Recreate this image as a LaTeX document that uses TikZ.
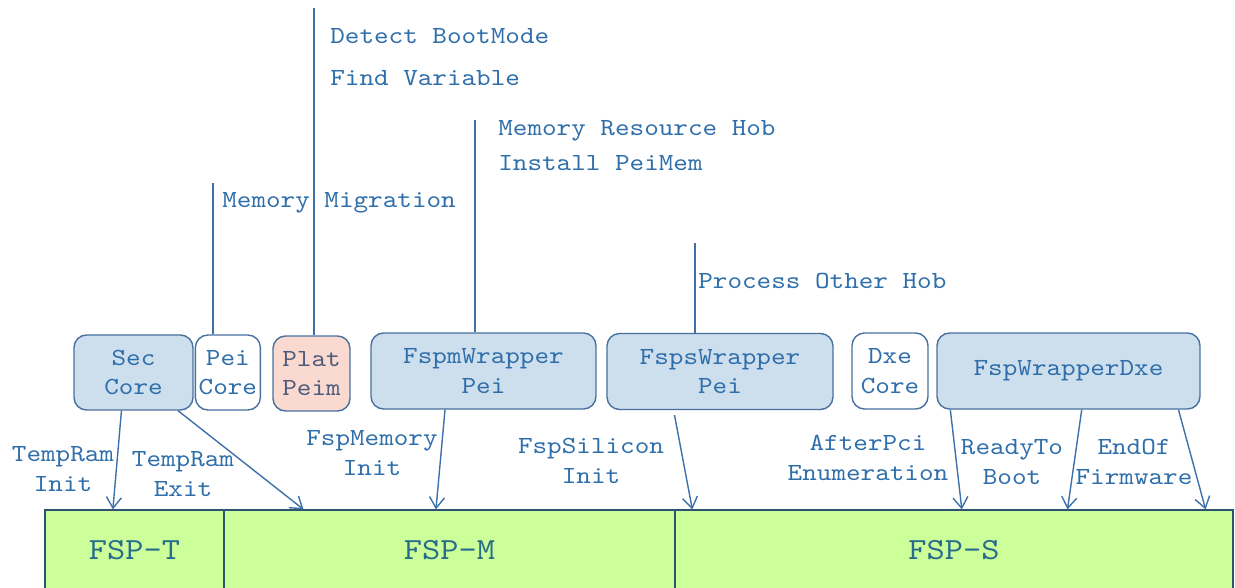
\documentclass[tikz,border=0pt]{standalone}
\usepackage{fontspec}
\newfontfamily\courierlike[FakeStretch=1.13]{lmmono10-regular.otf}
\usetikzlibrary{arrows.meta, positioning, calc}
\definecolor{textblue}{RGB}{46, 110, 170}
\definecolor{lineblue}{RGB}{62, 112, 170}
\definecolor{boxdraw}{RGB}{72, 112, 160}
\definecolor{boxfill}{RGB}{205, 222, 237}
\definecolor{pinkfill}{RGB}{250, 217, 209}
\definecolor{platgray}{RGB}{78, 92, 122}
\definecolor{fspgreen}{RGB}{204, 255, 153}
\definecolor{bardraw}{RGB}{44, 84, 112}
\definecolor{fsptext}{RGB}{40, 108, 140}
\newcommand{\lblfont}{\courierlike\fontsize{14}{16.8}\selectfont}
\newcommand{\barfont}{\courierlike\fontsize{17.5}{20}\selectfont}

\begin{document}
\begin{tikzpicture}[
    x=0.02cm, y=-0.02cm,
    node distance=0.02cm and 0.02cm,
    module/.style={draw=boxdraw, fill=boxfill, rounded corners=2.5mm, line width=0.8pt, font=\lblfont, text=textblue, align=center, inner sep=0pt, minimum height=1.52cm},
    core/.style={module, fill=white},
    plat/.style={module, fill=pinkfill, text=platgray},
    fspbar/.style={draw=bardraw, fill=fspgreen, line width=0.7pt, font=\barfont, text=fsptext, inner sep=0pt, minimum height=1.6cm},
    label/.style={font=\lblfont, text=textblue, align=center, inner sep=0pt},
    note/.style={label, anchor=west},
    line/.style={lineblue, line width=0.8pt},
    arrow/.style={-{Straight Barb[length=2.2mm, width=3mm]}, lineblue, line width=0.8pt}
]
\useasboundingbox (0,0) rectangle (1235,588);

% FSP binaries
\node (fspt) [fspbar, minimum width=3.58cm] at (134.5,550) {FSP-T};
\node (fspm) [fspbar, minimum width=9.02cm] at (449.5,550) {FSP-M};
\node (fsps) [fspbar, minimum width=11.16cm] at (954,550) {FSP-S};

% PEI phase modules
\node (sec) [module, minimum width=2.38cm, minimum height=1.5cm] at (133.5,372.5) {Sec\\Core};
\node (pei) [core, minimum width=1.3cm, minimum height=1.5cm, right=of sec] {Pei\\Core};
\node (plat) [plat, minimum width=1.54cm, minimum height=1.5cm] at (311.5,373.5) {Plat\\Peim};
\node (fspmw) [module, minimum width=4.5cm] at (483.5,371) {FspmWrapper\\Pei};
\node (fspsw) [module, minimum width=4.52cm] at (720,371.5) {FspsWrapper\\Pei};

% DXE phase modules
\node (dxe) [core, minimum width=1.52cm] at (890,371) {Dxe\\Core};
\node (dxew) [module, minimum width=5.26cm] at (1068.5,371) {FspWrapperDxe};

% Upward task lines
\coordinate (migtop) at (213,183);
\coordinate (plattop) at (314,8);
\coordinate (memtop) at (475,120);
\coordinate (hobtop) at (695,243);
\draw [line] (migtop |- pei.north) -- (migtop);
\draw [line] (plattop |- plat.north) -- (plattop);
\draw [line] (memtop |- fspmw.north) -- (memtop);
\draw [line] (hobtop |- fspsw.north) -- (hobtop);

\node (mig) [note] at (222,203) {Memory Migration};
\node (boot) [note] at (330,36) {Detect BootMode};
\node (var) [note] at (330,78) {Find Variable};
\node (memhob) [note] at (498,131) {Memory Resource Hob};
\node (peimem) [note] at (498,163) {Install PeiMem};
\node (otherhob) [note] at (698,281) {Process Other Hob};

% API calls
\draw [arrow] ($(sec.south west)!0.40!(sec.south east)$) -- ($(fspt.north west)!0.38!(fspt.north east)$);
\draw [arrow] ($(sec.south west)!0.87!(sec.south east)$) -- ($(fspm.north west)!0.177!(fspm.north east)$);
\draw [arrow] ($(fspmw.south west)!0.33!(fspmw.south east)$) -- ($(fspm.north west)!0.47!(fspm.north east)$);
\draw [arrow] ([yshift=-0.1cm]$(fspsw.south west)!0.30!(fspsw.south east)$) -- ($(fsps.north west)!0.032!(fsps.north east)$);
\draw [arrow] ($(dxew.south west)!0.053!(dxew.south east)$) -- ($(fsps.north west)!0.514!(fsps.north east)$);
\draw [arrow] ($(dxew.south west)!0.55!(dxew.south east)$) -- ($(fsps.north west)!0.703!(fsps.north east)$);
\draw [arrow] ($(dxew.south west)!0.916!(dxew.south east)$) -- ($(fsps.north west)!0.95!(fsps.north east)$);

\node (tri) [label] at (63,469) {TempRam\\Init};
\node (tre) [label] at (183,474) {TempRam\\Exit};
\node (fmi) [label] at (372,453) {FspMemory\\Init};
\node (fsi) [label] at (591,461) {FspSilicon\\Init};
\node (api) [label] at (868,458) {AfterPci\\Enumeration};
\node (rtb) [label] at (1012,462) {ReadyTo\\Boot};
\node (eof) [label] at (1134,462) {EndOf\\Firmware};

\end{tikzpicture}
\end{document}
